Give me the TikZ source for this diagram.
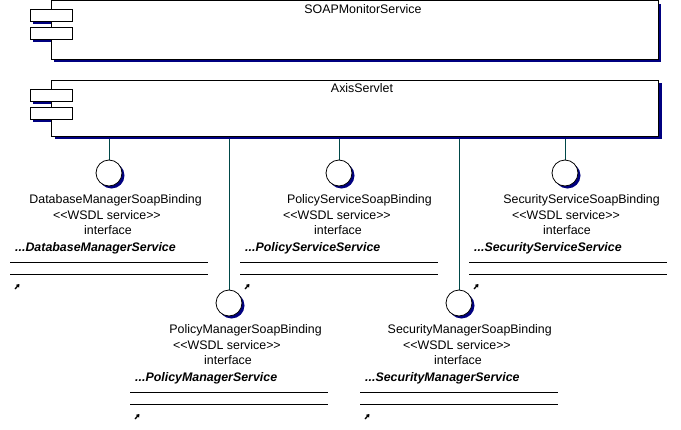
\documentclass[tikz,border=0pt]{standalone}
\usepackage{fontspec}
\setmainfont{Liberation Sans}
\usetikzlibrary{shadows,arrows.meta,backgrounds}

\definecolor{roseshadow}{RGB}{0,0,128}
\definecolor{wirecolor}{RGB}{0,72,72}

\tikzset{
    component/.style={draw, line width=1pt, fill=white, minimum width=607pt, inner sep=0pt,
        general shadow={fill=roseshadow, shadow xshift=3pt, shadow yshift=-3pt}},
    port/.style={draw, line width=1pt, fill=white, minimum width=42pt, minimum height=12pt, inner sep=0pt},
    iface/.style={circle, draw, line width=0.8pt, fill=white, minimum size=26pt, inner sep=0pt,
        general shadow={fill=roseshadow, shadow xshift=2.5pt, shadow yshift=-2.5pt}},
    txt/.style={font=\fontsize{12.4}{14}\selectfont, inner sep=0pt},
    service/.style={txt, font=\fontsize{12.4}{14}\selectfont\bfseries\itshape, anchor=west},
    realize/.style={draw=wirecolor, line width=1pt},
    rule/.style={line width=0.8pt},
    shortcut/.style={line width=1.3pt, -{Triangle[length=3pt, width=4pt]}}
}

\begin{document}
\begin{tikzpicture}[x=1pt, y=-1pt]
    \useasboundingbox (0,0) rectangle (681,429);

    % components
    \node[component, minimum height=58.5pt] at (354.5, 29.75) (monitor) {};
    \node[txt] at (363, 9.5) (monitorname) {SOAPMonitorService};
    \fill[roseshadow] (33, 21.3) rectangle (51, 23.8);
    \fill[roseshadow] (33, 39.3) rectangle (51, 41.8);
    \node[port] at (51, 15.3) (monitorp1) {};
    \node[port] at (51, 33.3) (monitorp2) {};

    \node[component, minimum height=56pt] at (355, 108) (axis) {};
    \node[txt] at (362, 88) (axisname) {AxisServlet};
    \fill[roseshadow] (33, 101.3) rectangle (51, 103.8);
    \fill[roseshadow] (33, 119.3) rectangle (51, 121.8);
    \node[port] at (51, 95.3) (axisp1) {};
    \node[port] at (51, 113.3) (axisp2) {};

    % upper interfaces
    \node[iface] at (109, 173) (db) {};
    \node[txt, anchor=east] at (202, 200) (dbname) {DatabaseManagerSoapBinding};
    \node[txt] at (107, 215) (dbster) {<{}<WSDL service>{}>};
    \node[txt] at (108, 230) (dbkind) {interface};
    \node[service] at (15, 248) (dblabel) {...DatabaseManagerService};
    \draw[rule] (10, 262) -- (208, 262);
    \draw[rule] (10, 274) -- (208, 274);
    \draw[shortcut] (15, 289) -- (19.5, 284);

    \node[iface] at (339, 173) (ps) {};
    \node[txt, anchor=east] at (432, 200) (psname) {PolicyServiceSoapBinding};
    \node[txt] at (337, 215) (psster) {<{}<WSDL service>{}>};
    \node[txt] at (338, 230) (pskind) {interface};
    \node[service] at (245, 248) (pslabel) {...PolicyServiceService};
    \draw[rule] (240, 262) -- (438, 262);
    \draw[rule] (240, 274) -- (438, 274);
    \draw[shortcut] (245, 289) -- (249.5, 284);

    \node[iface] at (565, 173) (ss) {};
    \node[txt, anchor=east] at (660, 200) (ssname) {SecurityServiceSoapBinding};
    \node[txt] at (566, 215) (ssster) {<{}<WSDL service>{}>};
    \node[txt] at (567, 230) (sskind) {interface};
    \node[service] at (474, 248) (sslabel) {...SecurityServiceService};
    \draw[rule] (469, 262) -- (667, 262);
    \draw[rule] (469, 274) -- (667, 274);
    \draw[shortcut] (474, 289) -- (478.5, 284);

    % lower interfaces
    \node[iface] at (229, 303) (pm) {};
    \node[txt, anchor=east] at (322, 330) (pmname) {PolicyManagerSoapBinding};
    \node[txt] at (227, 345) (pmster) {<{}<WSDL service>{}>};
    \node[txt] at (228, 360) (pmkind) {interface};
    \node[service] at (135, 378) (pmlabel) {...PolicyManagerService};
    \draw[rule] (130, 392) -- (328, 392);
    \draw[rule] (130, 404) -- (328, 404);
    \draw[shortcut] (135, 419) -- (139.5, 414);

    \node[iface] at (459, 303) (sm) {};
    \node[txt, anchor=east] at (552, 330) (smname) {SecurityManagerSoapBinding};
    \node[txt] at (457, 345) (smster) {<{}<WSDL service>{}>};
    \node[txt] at (458, 360) (smkind) {interface};
    \node[service] at (365, 378) (smlabel) {...SecurityManagerService};
    \draw[rule] (360, 392) -- (558, 392);
    \draw[rule] (360, 404) -- (558, 404);
    \draw[shortcut] (365, 419) -- (369.5, 414);

    % realizations
    \begin{scope}[on background layer]
        \draw[realize] (db.north |- axis.south) -- (db.north);
        \draw[realize] (ps.north |- axis.south) -- (ps.north);
        \draw[realize] (ss.north |- axis.south) -- (ss.north);
        \draw[realize] (pm.north |- axis.south) -- (pm.north);
        \draw[realize] (sm.north |- axis.south) -- (sm.north);
    \end{scope}
\end{tikzpicture}
\end{document}
